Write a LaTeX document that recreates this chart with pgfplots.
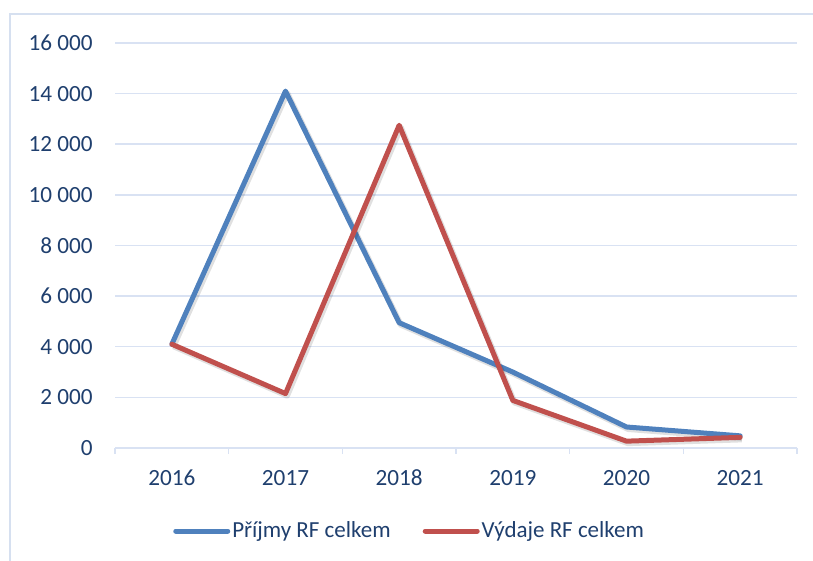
\documentclass[border=0pt]{standalone}
\usepackage{fontspec}
\setmainfont{Carlito}
\usepackage{pgfplots}
\pgfplotsset{compat=1.18}
\definecolor{txt}{HTML}{1F3F6E}
\definecolor{gridc}{HTML}{D9E2F3}
\definecolor{framec}{HTML}{D6E0F0}
\definecolor{sblue}{HTML}{4F81BD}
\definecolor{sred}{HTML}{C0504D}
\begin{document}
\begin{tikzpicture}[x=1pt,y=1pt]
\path[use as bounding box] (0,0) rectangle (406.5,280.5);
\draw[framec, line width=1pt] (4.75,0) -- (4.75,273.5) -- (406.5,273.5);
\begin{axis}[
  at={(57.5pt,56.5pt)}, anchor=south west,
  scale only axis, width=341pt, height=202.5pt,
  xmin=-0.5, xmax=5.5, ymin=0, ymax=16000,
  scaled y ticks=false,
  axis x line*=bottom, axis y line*=left,
  x axis line style={gridc, line width=0.75pt, -},
  y axis line style={draw=none},
  xtick={0,1,2,3,4,5},
  xticklabels={2016,2017,2018,2019,2020,2021},
  minor xtick={-0.5,0.5,1.5,2.5,3.5,4.5,5.5},
  major tick length=0pt, minor tick length=3pt,
  tick align=outside,
  minor tick style={gridc, line width=0.75pt},
  ytick style={draw=none},
  ytick={0,2000,4000,6000,8000,10000,12000,14000,16000},
  yticklabels={0,2 000,4 000,6 000,8 000,10 000,12 000,14 000,16 000},
  ymajorgrids,
  major grid style={gridc, line width=0.75pt},
  ticklabel style={font=\fontsize{11.6}{13}\selectfont, text=txt, inner sep=0pt},
  yticklabel style={anchor=east, xshift=-11pt},
  xticklabel style={anchor=north, yshift=-11pt, text height=7.5pt, text depth=0pt},
  legend style={at={(0.432,-0.205)}, anchor=center, draw=none, fill=none,
    font=\fontsize{11.5}{13}\selectfont, text=txt,
    nodes={inner xsep=1pt},
    /tikz/every even column/.append style={column sep=15pt}},
  legend columns=2,
  legend cell align=left,
  legend image code/.code={\draw[#1, line width=2.5pt, line cap=round] (0pt,0pt) -- (26pt,0pt);},
]
\addplot[forget plot, black, opacity=0.12, line width=3pt, line join=round, xshift=0.8pt, yshift=-1pt] coordinates {(0,4100)(1,14100)(2,4950)(3,3000)(4,830)(5,480)};
\addplot[sblue, line width=2.5pt, line join=round, line cap=round] coordinates {(0,4100)(1,14100)(2,4950)(3,3000)(4,830)(5,480)};
\addplot[forget plot, black, opacity=0.12, line width=3pt, line join=round, xshift=0.8pt, yshift=-1pt] coordinates {(0,4100)(1,2150)(2,12750)(3,1880)(4,270)(5,420)};
\addplot[sred, line width=2.5pt, line join=round, line cap=round] coordinates {(0,4100)(1,2150)(2,12750)(3,1880)(4,270)(5,420)};
\legend{Příjmy RF celkem, Výdaje RF celkem}
\end{axis}
\end{tikzpicture}
\end{document}
